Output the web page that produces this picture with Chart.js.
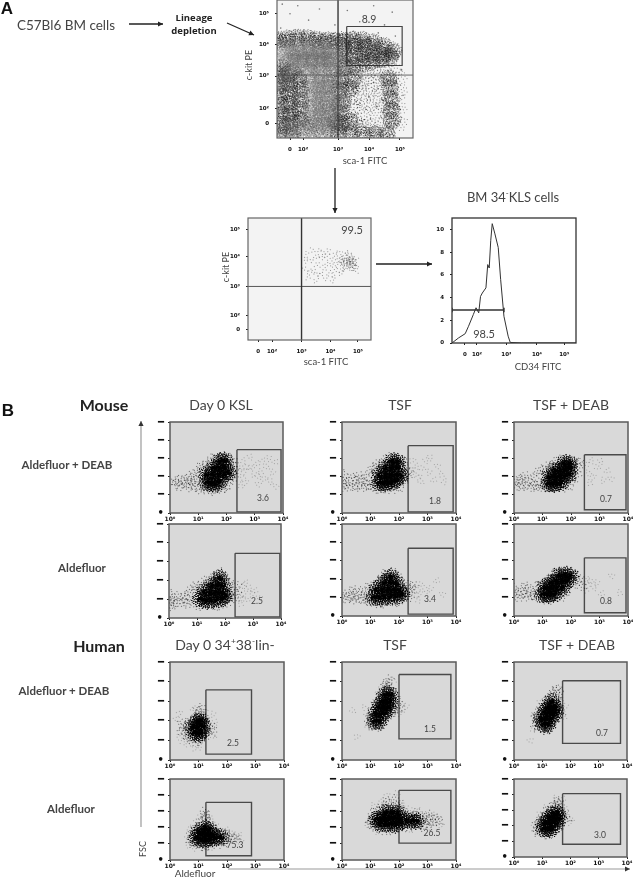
<!DOCTYPE html>
<html><head><meta charset="utf-8">
<script src="https://cdn.jsdelivr.net/npm/chart.js@4"></script>
<style>
html,body{margin:0;padding:0;background:#fff;overflow:hidden;width:633px;height:878px}
canvas{position:absolute;filter:blur(.3px)}
.t{position:absolute;white-space:nowrap;transform:translate(-50%,-50%);font-family:Lato,sans-serif;color:#444;z-index:5;line-height:1}
.r{transform:translate(-50%,-50%) rotate(-90deg)}
.t sup{font-size:.6em;line-height:0}
svg{position:absolute;left:0;top:0;z-index:4}
</style></head><body>
<script>
/* ---------- values ---------- */
const decadeLabels=['10⁰','10¹','10²','10³','10⁴'];
const fscTicks=[0,50,100,150,200,250];
const logTickLabels=['0','10²','10³','10⁴','10⁵'];
const topXTicks=[1.45,1.87,3,4,5];
const topYTicks=[1.5,1.98,3,4,4.97];
const sortXTicks=[1.5,1.98,3,4,4.95];
const sortYTicks=[1.55,2.02,3,4,4.9];
const histXTicks=[1.62,2.02,3,4.02,4.93];
const histYTicks=[0,2,4,6,8,10];
const histX=[1.19,1.41,1.63,1.74,1.9,1.99,2.08,2.14,2.2,2.32,2.38,2.43,2.48,2.53,2.62,2.73,2.81,2.92,3.06,3.13,3.5,5.32];
const histY=[0,.45,.82,1.47,2.5,3.1,2.65,4.1,4.4,4.85,6.9,6.6,9.0,10.5,9.6,8.4,5.6,2.35,.6,.05,0,0];
const histGateX=[1.19,1.19,1.19,2.92,2.92,2.92];
const histGateY=[2.7,3.1,2.9,2.9,3.1,2.7];

/* top plot: c-kit vs sca-1 */
const topLight=[1.4,3.4,1.7,3.4,2,3.4,2.3,3.4,2.6,3.4,2.85,3.4,1.4,3.62,1.7,3.62,2,3.62,2.3,3.62,2.6,3.62,2.85,3.62,1.3,3.85,1.6,3.85,1.9,3.85,2.2,3.85,2.5,3.85,2.85,3.85,2.2,1.6,2.5,1.6,2.8,1.6,2.2,1.9,2.5,1.9,2.8,1.9,2.2,2.2,2.5,2.2,2.8,2.2,2.2,2.5,2.5,2.5,2.8,2.5,2.2,2.8,2.5,2.8,2.8,2.8,1.3,1.33,1.6,1.33,1.9,1.33,2.2,1.33,2.5,1.33,2.8,1.33,1.2,2.9,1.5,3.1,3.2,3.3,3.1,2.1,2.05,3.05,2.45,3.08,2.8,3.1];
const topMid=[1.15,1.5,1.15,1.8,1.15,2.1,1.15,2.4,1.15,2.7,1.15,3,1.15,3.25,1.45,1.55,1.45,1.85,1.45,2.15,1.45,2.45,1.45,2.75,1.45,3.05,1.75,1.6,1.75,1.95,1.75,2.3,1.75,2.6,1.75,2.9,1.1,4.12,1.4,4.15,1.7,4.17,2,4.15,2.3,4.12,2.6,4.12,2.9,4.12,3.2,4.12,3.5,4.12,3.8,4.1,4.15,4.02,4.45,3.92,4.75,3.78,3.2,3.3,3.5,3.35,3.8,3.4,4.1,3.45,4.4,3.5,3.2,3.62,3.5,3.65,3.8,3.7,4.1,3.72,4.45,3.68,4.7,3.6,3.2,3.88,3.55,3.9,3.9,3.88,3.1,1.5,3.1,1.85,3.1,2.2,3.1,2.55,3.1,2.88,3.4,1.55,3.4,2.6,3.45,2.88,4.7,1.6,4.7,1.95,4.7,2.3,4.7,2.65,4.65,2.9,1.1,1.22,1.5,1.2,3,1.22,3.4,1.22,3.8,1.2,4.2,1.2,4.6,1.18,2.95,1.55];
const topDark=[1.1,4.22,1.25,4.18,1.42,4.25,1.6,4.2,1.78,4.26,1.95,4.2,2.15,4.24,2.33,4.18,2.5,4.22,2.7,4.18,2.88,4.2,3.08,4.17,3.25,4.21,3.43,4.16,3.6,4.19,3.78,4.15,3.95,4.12,4.1,4.08,4.28,4.03,4.42,3.97,4.58,3.88,4.75,3.8,4.86,3.68,1.15,4.02,1.5,4.05,1.92,4.08,2.4,4.05,2.9,4.02,3.3,4.02,3.7,4.03,4.2,3.92,4.6,3.72,1.08,3.3,1.22,3.1,1.38,3.25,1.55,2.98,1.72,3.12,1.88,2.9,1.12,2.85,1.3,2.7,1.5,2.82,1.68,2.62,1.85,2.72,2.02,2.55,1.1,2.45,1.28,2.3,1.45,2.42,1.62,2.2,1.82,2.35,2,2.1,1.1,2.05,1.3,1.9,1.48,2,1.65,1.82,1.85,1.95,2.05,1.7,1.12,1.7,1.35,1.55,1.55,1.65,1.75,1.5,1.95,1.6,2.15,1.45,3.1,3.3,3.25,3.6,3.4,3.4,3.55,3.75,3.7,3.45,3.85,3.65,4,3.5,4.15,3.75,4.3,3.55,4.45,3.72,4.6,3.55,4.75,3.65,3.05,2.8,3.18,2.55,3.3,2.75,3.42,2.35,3.55,2.6,3.08,2.2,3.22,1.95,3.35,2.1,3.5,1.8,3.62,2.15,3.05,1.7,3.2,1.5,3.38,1.65,3.58,1.42,3.75,1.55,4.55,2.8,4.68,2.55,4.8,2.85,4.58,2.3,4.72,2.12,4.85,2.4,4.6,1.9,4.75,1.75,4.88,2,4.62,1.55,4.85,1.55,2.8,1.5,2.92,2,2.88,2.6,2.95,3.05,1.1,1.3,1.4,1.26,1.7,1.22,2,1.26,2.3,1.2,2.6,1.24,2.9,1.2,3.2,1.26,3.5,1.2,3.8,1.25,4.1,1.18,4.4,1.24,4.7,1.16];
const topThin=[3.55,2.95,3.75,2.8,3.95,2.95,4.15,2.75,4.35,2.9,3.6,2.45,3.8,2.3,4,2.55,4.2,2.35,4.4,2.5,3.65,1.95,3.85,1.8,4.05,2.05,4.25,1.85,4.45,2.05,3.7,1.45,3.95,1.5,4.15,1.4,4.4,1.5,3.6,3.12,3.9,3.15,4.2,3.1,4.5,3.15,4.8,3.2,5,2.95,5.02,2.5,5,2,5,1.5];
const topSparse=[1.2,5.25,1.45,4.95,1.7,5.2,2.05,4.75,2.4,5.1,2.9,4.6,3.3,5.05,3.7,4.7,4.15,5.2,4.5,4.6,4.75,5.0,1.15,4.5,1.9,4.45,3.5,4.4,4.3,4.35,4.85,4.25,3.8,2.7,4,2.35,4.15,2.8,3.9,1.95,4.25,2.05,4.05,1.65,4.4,1.7,4.3,2.6,3.7,2.95,4.45,2.95,5.05,3.2,5.1,2.4,5.05,1.7,4.95,3.6];
const topGateX=[3.28,5.07,5.07,3.28,3.28];
const topGateY=[4.55,4.55,3.33,3.33,4.55];
const topVX=[3,3],topVY=[1.06,5.38],topHX=[1.03,5.42],topHY=[3.03,3.03];
const sortVX=[3,3],sortVY=[1.2,5.3],sortHX=[1.15,5.4],sortHY=[3,3];

/* sorted KLS cells */
const sortDots=[3.12,3.6,3.2,4.1,3.25,3.3,3.32,3.85,3.38,4.2,3.42,3.55,3.48,3.2,3.5,4,3.58,3.75,3.62,4.18,3.68,3.4,3.72,3.95,3.78,3.6,3.82,3.28,3.85,4.05,3.9,3.75,3.95,4.2,4,3.45,4.02,3.9,4.08,3.7,4.1,3.35,4.15,4.1,4.2,3.85,4.22,3.55,4.28,3.95,4.3,3.72,4.34,4.12,4.38,3.85,4.4,3.6,4.44,3.98,4.46,3.78,4.5,3.9,4.52,3.68,4.55,4.08,4.58,3.82,4.6,3.95,4.62,3.72,4.65,3.88,4.67,3.6,4.7,3.8,4.72,4,4.74,3.7,4.76,3.9,4.8,3.82,4.82,3.62,4.85,3.95,4.88,3.75,3.15,3.9,3.3,3.5,3.55,3.4,3.75,4.12,4.05,3.2,4.35,3.45,4.6,4.15,4.9,3.55,4.42,3.92,4.5,3.8,4.56,3.74,4.62,3.85,4.68,3.92,4.72,3.68,4.78,3.76,4.84,3.86,4.48,3.62,4.58,3.9,4.66,3.78,4.7,3.84,4.75,3.62];

/* panel clouds: [aldefluor decade, FSC] */
const r1c1Core=[1.3,85,1.45,84,1.6,80,1.75,85,1.3,104,1.5,105,1.7,105,1.9,105,1.55,125,1.75,125,1.95,125,1.8,142,1.95,142,2.05,110];
const r1c1Dots=[.95,72,1,95,1.02,115,1.08,62,1.12,128,1.18,70,1.2,132,1.3,65,1.35,138,1.5,62,1.48,148,1.65,62,1.62,150,1.8,66,1.75,155,1.92,70,1.9,158,2.05,75,2.1,150,2.15,88,2.2,130,2.25,100,2.3,118,2.25,145,.8,90,.85,75,.9,108,.72,82,.7,100,.62,72,.6,92,.52,80,.45,95,.38,72,.3,88,.22,78,.15,85];
const r1c1Sparse=[2.45,125,2.55,100,2.6,145,2.7,85,2.75,125,2.85,152,2.95,105,3.05,135,3.1,80,3.2,115,3.3,145,3.38,95,3.45,125,3.55,85,3.62,110,3.7,140,3.72,75,2.5,78,2.65,115,2.9,125,3.15,98,3.5,148];
const r2c1Core=[1.1,52,1.3,48,1.5,48,1.7,48,1.9,50,1.25,68,1.45,68,1.65,68,1.85,68,2.02,62,1.55,86,1.75,88,1.92,85,1.8,105];
const r2c1Dots=[.55,45,.62,60,.7,38,.75,72,.8,52,.88,82,.92,36,.98,70,1.05,85,1.12,34,1.2,92,1.3,34,1.38,100,1.5,32,1.55,108,1.7,33,1.68,116,1.85,35,1.85,120,2,38,1.98,108,2.1,45,2.12,95,2.2,58,2.22,80,2.3,68,2.38,50,2.42,85,2.45,62,.45,55,.38,42,.3,60,.22,38,.15,50,.08,45,.05,30,.04,62,.03,40];
const r2c1Sparse=[2.5,75,2.6,55,2.65,88,2.72,68,2.8,48,2.88,78,2.95,62,3.05,72,3.2,55,2.55,40,2.75,95];
const r1c2Core=[1.3,84,1.45,84,1.6,84,1.75,84,1.9,88,1.3,102,1.5,104,1.7,104,1.9,106,2.08,104,1.55,124,1.75,124,1.95,124,1.75,140,1.92,140];
const r1c2Dots=[.85,85,.9,100,.95,75,1,115,1.05,70,1.1,122,1.15,68,1.2,132,1.32,66,1.35,138,1.5,66,1.5,145,1.65,64,1.62,152,1.85,68,1.8,154,2.02,72,1.98,152,2.18,85,2.12,140,2.28,100,2.22,125,2.32,112,.78,72,.72,95,.65,78,.6,100,.52,70,.45,90,.4,78,.32,100,.25,72,.18,90,.12,78,.05,85,.03,70,.03,105];
const r1c2Sparse=[2.45,120,2.55,108,2.62,130,2.72,100,2.85,122,2.95,142,3.05,110,3.2,90,3.32,130,3.48,108,3.6,88,2.5,145,2.8,85,3.1,150];
const r2c2Core=[1.1,52,1.3,52,1.5,52,1.7,52,1.9,52,1.2,70,1.4,70,1.6,72,1.8,72,2,70,2.12,60,1.5,90,1.7,90,1.88,88,1.68,106];
const r2c2Dots=[.75,55,.82,45,.88,66,.95,38,.98,80,1.1,36,1.15,86,1.3,35,1.3,95,1.45,36,1.42,105,1.6,36,1.55,115,1.75,38,1.72,121,1.9,38,1.88,112,2.05,42,2.05,100,2.2,50,2.2,88,2.32,65,2.35,78,.7,70,.62,48,.55,60,.48,42,.42,70,.35,50,.28,62,.2,48,.12,60,.05,52,2.4,50,2.45,70,2.52,82];
const r2c2Sparse=[2.55,58,2.62,75,2.68,45,2.75,62,2.8,85,2.95,68,3.1,72,3.3,95,3.5,60];
const r1c3Core=[1.2,82,1.35,82,1.5,82,1.65,82,1.25,98,1.42,100,1.6,100,1.78,102,1.92,108,1.45,118,1.62,118,1.8,120,1.95,122,1.75,135,1.92,135];
const r1c3Dots=[.7,82,.75,100,.8,72,.85,112,.92,70,.98,118,1.05,72,1.12,124,1.2,72,1.28,132,1.42,70,1.45,140,1.6,70,1.58,145,1.78,72,1.75,148,1.95,76,1.95,148,2.1,88,2.12,142,2.2,105,2.25,125,2.27,140,.62,72,.55,92,.45,78,.4,100,.32,72,.25,92,.18,80,.1,95,.05,72,.02,85];
const r1c3Sparse=[2.52,135,2.6,112,2.72,145,2.8,100,2.95,125,3.05,140,3.12,88,3.25,115,3.38,95,2.65,85];
const r2c3Core=[1,60,1.15,60,1.3,60,1.45,60,1.1,76,1.3,76,1.5,76,1.68,78,1.3,92,1.5,94,1.7,96,1.88,96,1.6,108,1.78,110,1.95,108];
const r2c3Dots=[.72,65,.78,52,.82,78,.88,48,.92,85,1,46,1.05,92,1.15,45,1.18,100,1.3,46,1.35,108,1.45,47,1.48,116,1.6,50,1.65,122,1.75,60,1.85,122,1.9,72,2,118,2.08,85,2.12,110,2.2,95,2.28,102,2.38,82,.62,58,.55,72,.5,50,.42,80,.35,60,.28,72,.2,52,.12,66,.05,58,.03,75];
const r2c3Sparse=[2.45,92,2.5,72,2.58,100,2.65,85,2.72,95,2.82,75,2.9,88,3.05,60,3.4,110,3.7,65];
const r3c1Core=[.85,70,1,68,1.12,72,.82,84,.98,84,1.12,86,.95,98,1.05,100];
const r3c1Dots=[.55,75,.6,62,.62,88,.68,55,.7,98,.75,50,.8,105,.9,48,.92,115,1.02,50,1.05,122,1.12,55,1.15,112,1.22,62,1.22,100,1.3,72,1.3,90,1.38,80,.5,85,.42,70,1.45,85,1.48,72,.38,95,1.1,135,1,128];
const r3c1Sparse=[.2,105,.3,60,.45,48,.35,120,1.55,60,1.6,95,1.5,115,.8,130,1.2,125,.62,42,1.05,35,.9,30];
const r3c2Core=[1.15,100,1.3,100,1.2,118,1.38,118,1.5,118,1.3,134,1.45,134,1.6,134,1.42,150,1.58,150,1.7,150,1.55,166,1.68,166];
const r3c2Dots=[1,95,1.02,110,1.05,88,1.12,85,1.08,125,1.18,135,1.22,86,1.28,148,1.35,90,1.35,160,1.5,98,1.42,172,1.62,110,1.52,182,1.72,118,1.62,186,1.78,130,1.72,178,1.85,142,1.8,165,1.9,125,1.95,150,2,135,.95,105,1.62,196,1.7,205,1.55,195];
const r3c2Sparse=[.85,115,.78,135,.9,90,2.05,120,2.1,145,2.15,128,2.25,135,1.1,150,1.25,170,1.8,205,1.4,190,.55,60,.4,125];
const r4c2Core=[1.2,128,1.35,128,1.5,128,1.65,128,1.8,128,1.95,128,1.3,112,1.5,112,1.7,112,1.9,112,2.1,118,1.55,145,1.75,145,1.95,142,2.25,122,2.45,122,2.62,122];
const r4c2Dots=[1,125,1.05,110,1.08,140,1.15,100,1.18,150,1.3,95,1.3,160,1.5,92,1.48,168,1.7,94,1.68,172,1.9,95,1.92,165,2.1,98,2.1,150,2.25,105,2.3,140,2.5,105,2.5,135,2.7,108,2.7,135,2.85,112,2.85,132,3,115,3,130,3.15,122,3.2,112,3.3,128,3.38,118,.95,118,1.55,185,1.85,190,2.05,175,3.1,138,2.6,145,2.8,100];
const r4c2Sparse=[.9,105,1.1,170,1.35,180,1.6,200,1.95,205,2.15,165,2.35,155,2.65,152,2.9,145,3.25,140,3.45,125,3.5,108,2.4,90,3.05,100,1.25,85];
const r3c3Core=[1.05,92,1.2,92,.98,106,1.15,106,1.32,106,1.1,120,1.28,120,1.42,120,1.2,134,1.38,134,1.48,134,1.35,148];
const r3c3Dots=[.75,92,.78,108,.82,85,.85,120,.9,80,.92,130,1,78,1.02,138,1.12,76,1.15,148,1.28,85,1.25,158,1.4,95,1.35,170,1.48,105,1.48,162,1.55,118,1.55,150,1.62,132,1.6,168,1.65,118,1.42,178,1.52,182];
const r3c3Sparse=[.55,50,.68,115,.68,80,1.72,120,1.78,108,1.7,150,1.82,135,1.2,165,.9,148,1.65,180];
const r4c1Core=[.92,70,1.08,66,1.25,64,1.42,64,1.6,66,1.78,68,.98,85,1.15,82,1.32,80,1.5,78,1.25,98,1.38,92];
const r4c1Dots=[.72,62,.75,78,.8,52,.82,90,.9,48,.92,100,1.05,45,1.05,108,1.2,42,1.15,118,1.35,45,1.25,128,1.55,48,1.35,115,1.75,52,1.5,100,1.9,55,1.7,88,2,62,1.85,82,2.1,70,2,78,2.22,68,2.3,72,1.25,138,1.22,148,1.3,135];
const r4c1Sparse=[.6,70,.62,48,.7,100,.95,120,1.05,130,1.45,125,1.6,105,1.95,92,2.15,85,2.38,65,2.45,78,2.5,58,1.4,35,.85,35];
const r4c3Core=[1.05,92,1.2,92,1.35,92,1.1,108,1.28,108,1.45,108,1.22,124,1.38,124,1.55,124,1.42,140,1.56,140];
const r4c3Dots=[.8,92,.82,105,.85,80,.9,115,.95,76,.98,125,1.05,74,1.12,135,1.2,72,1.2,148,1.35,76,1.3,158,1.5,85,1.4,165,1.6,98,1.55,162,1.68,112,1.68,150,1.75,125,1.78,138,1.85,120,1.5,178,1.55,172,1.62,175];
const r4c3Sparse=[.7,100,.75,85,1.92,128,2,112,2.05,120,1.85,150,1.1,155,1.7,185,.9,140,1.45,190];

const gateR1C1X=[2.37,3.93],gateR1C1Y=[174,3];
const gateR2C1X=[2.36,3.96],gateR2C1Y=[172,3];
const gateR1C2X=[2.32,3.9],gateR1C2Y=[185,3];
const gateR2C2X=[2.32,3.9],gateR2C2Y=[184,5];
const gateR1C3X=[2.47,3.93],gateR1C3Y=[160,9];
const gateR2C3X=[2.47,3.93],gateR2C3Y=[158,9];
const gateR3C1X=[1.26,2.86],gateR3C1Y=[179,15];
const gateR4C1X=[1.26,2.86],gateR4C1Y=[178,13];
const gateR3C2X=[2,3.82],gateR3C2Y=[218,54];
const gateR4C2X=[2,3.82],gateR4C2Y=[215,52];
const gateR3C3X=[1.72,3.77],gateR3C3Y=[202,42.5];
const gateR4C3X=[1.72,3.77],gateR4C3Y=[203,41];

/* ---------- marker sprites: a stippled dot style for the cytometry points ---------- */
function stipple(R,count,power,dot,colour){
 const c=document.createElement('canvas'),S=Math.ceil(R*2+2);c.width=c.height=S;
 const x=c.getContext('2d');x.fillStyle=colour;
 for(let i=1;i<=count;i++){
  const r=R*Math.pow(i/count,power),a=i*2.39996;
  x.fillRect(Math.round(S/2+r*Math.cos(a)),Math.round(S/2+r*Math.sin(a)),dot,dot);
 }
 return c;
}
const coreMark=stipple(8.5,85,.85,1,'rgba(0,0,0,.85)');
const hazeMark=stipple(5,9,.6,1,'rgba(10,10,10,.55)');
const faintMark=stipple(4,5,.6,1,'rgba(40,40,40,.3)');
const lightMark=stipple(11,230,.5,1,'rgba(95,95,95,.4)');
const midMark=stipple(9,120,.5,1,'rgba(25,25,25,.55)');
const darkMark=stipple(4,9,.6,1,'rgba(0,0,0,.75)');
const thinMark=stipple(8,22,.5,1,'rgba(40,40,40,.5)');
const sortMark=stipple(3,4,.6,1,'rgba(60,60,60,.5)');

/* ---------- helpers ---------- */
const pairs=a=>{const o=[];for(let i=0;i<a.length;i+=2)o.push({x:a[i],y:a[i+1]});return o;};
const zip=(x,y)=>x.map((v,i)=>({x:v,y:y[i]}));
const box=(x,y)=>[{x:x[0],y:y[0]},{x:x[1],y:y[0]},{x:x[1],y:y[1]},{x:x[0],y:y[1]},{x:x[0],y:y[0]}];
const dots=(data,r,c)=>({data,showLine:false,pointRadius:r,pointBorderWidth:0,pointBackgroundColor:c});
const marks=(data,m)=>({data,showLine:false,pointStyle:m,pointRadius:m.width/2,pointRotation:c=>c.dataIndex*47});
const line=(data,c,w)=>({data,showLine:true,borderColor:c,borderWidth:w,pointRadius:0,tension:0,fill:false});
const framePlugin={id:'frame',
 beforeDraw(ch,a,o){const c=ch.chartArea,x=ch.ctx;x.save();x.fillStyle=o.fill;x.fillRect(c.left,c.top,c.width,c.height);x.restore();},
 afterDraw(ch,a,o){const c=ch.chartArea,x=ch.ctx;x.save();x.strokeStyle=o.stroke;x.lineWidth=o.width;x.strokeRect(c.left,c.top,c.width,c.height);x.restore();}};
const noPad=b=>{b.paddingTop=b.paddingBottom=b.paddingLeft=b.paddingRight=0;};
function panel(f,datasets,s){
 const gut=s.gut||30,bot=s.bot||20,top=6,right=10;
 const cv=document.createElement('canvas');
 const w=f[2]-f[0]+gut+right,h=f[3]-f[1]+bot+top;
 cv.width=Math.round(w);cv.height=Math.round(h);
 cv.style.left=(f[0]-gut)+'px';cv.style.top=(f[1]-top)+'px';
 document.body.appendChild(cv);
 const tickFont={size:s.xFont||6,weight:'bold',family:'DejaVu Sans'};
 new Chart(cv,{type:'scatter',data:{datasets},plugins:[framePlugin],options:{
  responsive:false,animation:false,events:[],
  layout:{autoPadding:false,padding:{left:0,top,right,bottom:0}},
  plugins:{legend:{display:false},tooltip:{enabled:false},frame:{fill:s.fill,stroke:s.stroke,width:s.lw}},
  scales:{
   x:{type:'linear',min:s.xr[0],max:s.xr[1],border:{display:false},
      grid:{drawOnChartArea:false,tickLength:s.tl||2,color:'#222',tickWidth:1},
      afterBuildTicks:t=>{t.ticks=s.xt.map(v=>({value:v}));},
      afterFit:b=>{b.height=bot;noPad(b);},
      ticks:{autoSkip:false,maxRotation:0,padding:s.xPad||1,color:'#111',font:tickFont,callback:v=>s.xl[s.xt.indexOf(v)]}},
   y:{type:'linear',min:s.yr[0],max:s.yr[1],border:{display:false},
      grid:{drawOnChartArea:false,tickLength:s.tl||2,color:'#222',tickWidth:1},
      afterBuildTicks:t=>{t.ticks=s.yt.map(v=>({value:v}));},
      afterFit:b=>{b.width=gut;noPad(b);},
      ticks:{autoSkip:false,padding:s.yPad||4,color:'#111',font:{size:s.yFont||10,weight:'bold',family:'DejaVu Sans'},callback:v=>s.yl[s.yt.indexOf(v)]}}
  }}});
}
const dashLabels=['•','━','━','━','━','━'];
function flow(f,core,dotsA,sparse,gx,gy){
 panel(f,[marks(pairs(core),coreMark),marks(pairs(core),coreMark),marks(pairs(dotsA),hazeMark),marks(pairs(sparse),faintMark),line(box(gx,gy),'#4a4a4a',1.4)],
  {fill:'#d9d9d9',stroke:'#5a5a5a',lw:1.5,xr:[0,4],yr:[0,250],xt:[0,1,2,3,4],xl:decadeLabels,yt:fscTicks,yl:dashLabels});
}
/* ---------- charts ---------- */
panel([277,0,413,138],[marks(pairs(topLight),lightMark),marks(pairs(topMid),midMark),marks(pairs(topThin),thinMark),marks(pairs(topDark),darkMark),dots(pairs(topSparse),.8,'rgba(40,40,40,.6)'),
  line(zip(topVX,topVY),'#444',1.5),line(zip(topHX,topHY),'#666',1),line(zip(topGateX,topGateY),'#444',1.2)],
 {fill:'#f3f3f3',stroke:'#666',lw:1.2,xr:[1.03,5.42],yr:[1.06,5.38],xt:topXTicks,xl:logTickLabels,yt:topYTicks,yl:logTickLabels,yFont:5.5,xFont:5.5,yPad:6,xPad:6});
panel([247.7,218.3,370.3,340],[marks(pairs(sortDots),sortMark),line(zip(sortVX,sortVY),'#333',1.4),line(zip(sortHX,sortHY),'#555',1)],
 {fill:'#f3f3f3',stroke:'#666',lw:1.2,xr:[1.15,5.4],yr:[1.2,5.3],xt:sortXTicks,xl:logTickLabels,yt:sortYTicks,yl:logTickLabels,yFont:5.5,xFont:5.5,yPad:6,xPad:6});
panel([451.7,218,575.7,343.3],[line(zip(histX,histY),'#333',1),line(zip(histGateX,histGateY),'#333',1.5)],
 {fill:'#fff',stroke:'#333',lw:1.3,xr:[1.19,5.32],yr:[0,11],xt:histXTicks,xl:logTickLabels,yt:histYTicks,yl:['0','2','4','6','8','10'],yFont:5.5,xFont:5.5,yPad:6,xPad:6});
flow([170,421.7,283,512.7],r1c1Core,r1c1Dots,r1c1Sparse,gateR1C1X,gateR1C1Y);
flow([169.3,524,281,617.7],r2c1Core,r2c1Dots,r2c1Sparse,gateR2C1X,gateR2C1Y);
flow([342.3,421.7,456,512.7],r1c2Core,r1c2Dots,r1c2Sparse,gateR1C2X,gateR1C2Y);
flow([342.3,524,456,615.7],r2c2Core,r2c2Dots,r2c2Sparse,gateR2C2X,gateR2C2Y);
flow([514,421.7,627.7,512.7],r1c3Core,r1c3Dots,r1c3Sparse,gateR1C3X,gateR1C3Y);
flow([514,524,627.7,616],r2c3Core,r2c3Dots,r2c3Sparse,gateR2C3X,gateR2C3Y);
flow([170.3,661.7,284.3,759.3],r3c1Core,r3c1Dots,r3c1Sparse,gateR3C1X,gateR3C1Y);
flow([170.3,779,284.3,860],r4c1Core,r4c1Dots,r4c1Sparse,gateR4C1X,gateR4C1Y);
flow([342.3,661.7,456,759.3],r3c2Core,r3c2Dots,r3c2Sparse,gateR3C2X,gateR3C2Y);
flow([342.3,779,456,860],r4c2Core,r4c2Dots,r4c2Sparse,gateR4C2X,gateR4C2Y);
flow([514,661.7,627.3,759.3],r3c3Core,r3c3Dots,r3c3Sparse,gateR3C3X,gateR3C3Y);
flow([514,779,627.3,857],r4c3Core,r4c3Dots,r4c3Sparse,gateR4C3X,gateR4C3Y);

/* ---------- labels ---------- */
const B='font-weight:700;';
const labels=[
 ['A',7,8,17,'font-family:Liberation Sans;font-weight:700;color:#111'],
 ['C57Bl6 BM cells',66,26,13.5,''],
 ['Lineage',194,18,9.5,'font-family:Open Sans;'+B+'color:#222'],
 ['depletion',194,31,9.5,'font-family:Open Sans;'+B+'color:#222'],
 ['8.9',369,19,10.5,''],
 ['sca-1 FITC',365,161,9.5,''],
 ['99.5',352,229,11,''],
 ['sca-1 FITC',326,362,9.5,''],
 ['BM 34<sup>-</sup>KLS cells',513,197,13,''],
 ['98.5',484,333,11,''],
 ['CD34 FITC',538,367,9.5,''],
 ['B',8,410,17,'font-family:Liberation Sans;font-weight:700;color:#111'],
 ['Mouse',104,405,16,B+'color:#222'],
 ['Day 0 KSL',221,405,14,''],
 ['TSF',400,405,14,''],
 ['TSF + DEAB',571,405,14,''],
 ['Aldefluor + DEAB',67,465,11.5,B],
 ['Aldefluor',82,568,11.5,B],
 ['Human',99,646,16,B+'color:#222'],
 ['Day 0 34<sup>+</sup>38<sup>-</sup>lin-',225,645,14,''],
 ['TSF',395,645,14,''],
 ['TSF + DEAB',577,645,14,''],
 ['Aldefluor + DEAB',64,691,11.5,B],
 ['Aldefluor',71,809,11.5,B],
 ['Aldefluor',195,873,10,''],
 ['3.6',263,498,8.5,''],['2.5',257,601,8.5,''],['1.8',435,501,8.5,''],['3.4',430,599,8.5,''],
 ['0.7',606,499,8.5,''],['0.8',606,601,8.5,''],['2.5',233,743,8.5,''],['75.3',235,845,8.5,''],
 ['1.5',430,729,8.5,''],['26.5',432,833,8.5,''],['0.7',602,733,8.5,''],['3.0',600,835,8.5,'']
];
const rotated=[['c-kit PE',248,65,9],['c-kit PE',225,267,9],['FSC',142,849,9]];
const put=(h,x,y,s,st,cl)=>{const d=document.createElement('div');d.className='t '+(cl||'');d.innerHTML=h;d.style.cssText='left:'+x+'px;top:'+y+'px;font-size:'+s+'px;'+(st||'');document.body.appendChild(d);};
labels.forEach(l=>put(l[0],l[1],l[2],l[3],l[4]));
rotated.forEach(l=>put(l[0],l[1],l[2],l[3],'','r'));
const arrows=[[129,24,163,24,'#222'],[227,23,254,35,'#222'],[335,168,335,213,'#222'],[376,264,432,264,'#222']];
const grayArrows=[[141,827,141,421],[228,869,630,869]];
let s='<svg width="633" height="878" xmlns="http://www.w3.org/2000/svg">';
const head=(x1,y1,x2,y2,c,L,W)=>{const a=Math.atan2(y2-y1,x2-x1),u=Math.cos(a),v=Math.sin(a);return '<polygon fill="'+c+'" points="'+x2+','+y2+' '+(x2-L*u-W*v)+','+(y2-L*v+W*u)+' '+(x2-L*u+W*v)+','+(y2-L*v-W*u)+'"/>';};
arrows.forEach(a=>{s+='<line x1="'+a[0]+'" y1="'+a[1]+'" x2="'+a[2]+'" y2="'+a[3]+'" stroke="'+a[4]+'" stroke-width="1.3"/>'+head(a[0],a[1],a[2],a[3],a[4],5,2.6);});
grayArrows.forEach(a=>{s+='<line x1="'+a[0]+'" y1="'+a[1]+'" x2="'+a[2]+'" y2="'+a[3]+'" stroke="#9a9a9a" stroke-width="1.2"/>'+head(a[0],a[1],a[2],a[3],'#333',5,2.6);});
document.body.insertAdjacentHTML('beforeend',s+'</svg>');
</script>
</body></html>
